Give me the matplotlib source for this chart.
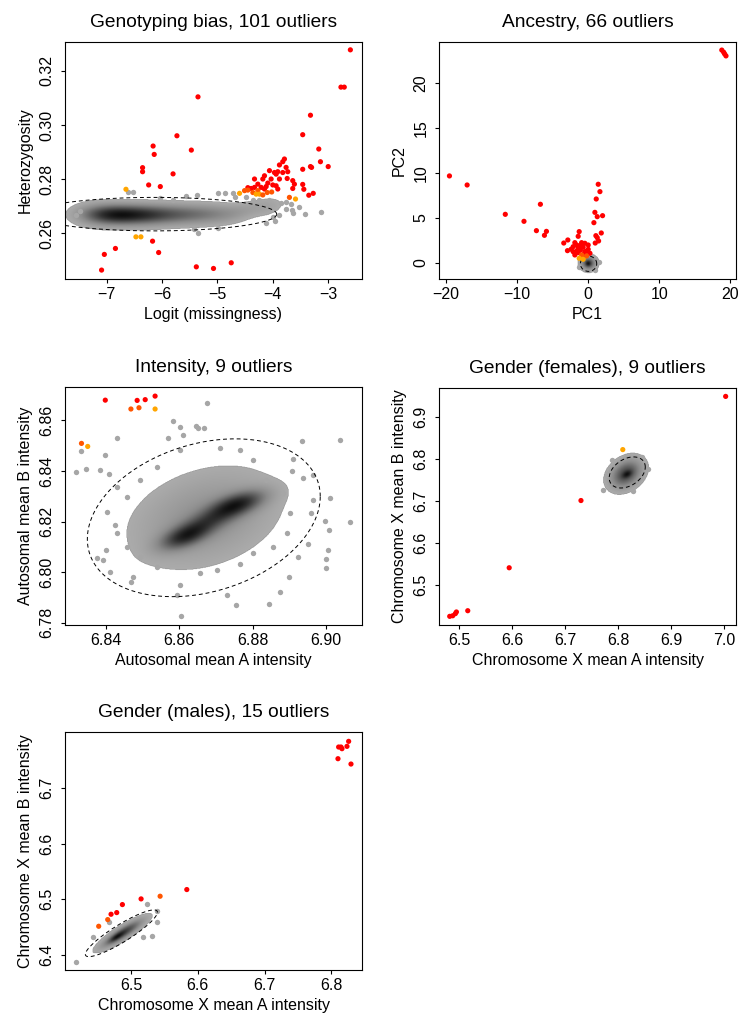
import numpy as np
import matplotlib.pyplot as plt
from matplotlib.colors import LinearSegmentedColormap

plt.rcParams['font.family'] = ['Liberation Sans', 'DejaVu Sans']

# ============================================
# Data
# ============================================
# colour codes of the outliers: r = red, x = orange-red, o = orange
COLS = {'r': '#FF0000', 'x': '#FF5500', 'o': '#FFA500'}

# --- 1. Genotyping bias ---
bias_out_x = [-2.60, -2.77, -2.71, -5.35, -3.32, -3.46, -5.73, -6.16, -6.14, -5.47,
              -3.17, -3.14, -3.00, -3.32, -3.30, -3.46, -6.35, -6.35, -5.80, -6.24,
              -6.03, -3.46, -3.44, -3.27, -3.35, -6.17, -6.06, -6.84, -7.04, -7.09,
              -5.38, -5.07, -4.75, -6.65, -6.47, -6.38, -3.70, -3.59,
              -3.79, -3.82, -3.88, -3.76, -4.06, -3.97, -3.94, -3.91, -3.82, -3.73,
              -4.15, -4.18, -4.33, -4.03, -3.88, -3.74, -3.64, -3.61, -4.27, -4.09,
              -4.00, -3.94, -3.91, -3.64, -4.33, -4.21, -4.39, -4.15, -4.12, -4.45,
              -4.45, -4.51, -4.27, -4.36, -4.24, -4.60, -4.30, -4.18, -4.02, -4.10]
bias_out_y = [0.3278, 0.3140, 0.3140, 0.3104, 0.3036, 0.2964, 0.2960, 0.2922, 0.2891, 0.2907,
              0.2911, 0.2864, 0.2846, 0.2846, 0.2843, 0.2836, 0.2842, 0.2827, 0.2819, 0.2778,
              0.2772, 0.2780, 0.2762, 0.2747, 0.2740, 0.2570, 0.2528, 0.2543, 0.2521, 0.2463,
              0.2475, 0.2469, 0.2490, 0.2762, 0.2586, 0.2586, 0.2732, 0.2726,
              0.2874, 0.2864, 0.2852, 0.2843, 0.2831, 0.2824, 0.2818, 0.2827, 0.2824, 0.2827,
              0.2812, 0.2800, 0.2800, 0.2800, 0.2800, 0.2802, 0.2794, 0.2781, 0.2781, 0.2785,
              0.2778, 0.2775, 0.2763, 0.2765, 0.2769, 0.2769, 0.2765, 0.2763, 0.2772, 0.2768,
              0.2759, 0.2757, 0.2757, 0.2750, 0.2744, 0.2747, 0.2744, 0.2741, 0.2752, 0.2750]
bias_out_c = list('rrrrrrrrrr' 'rrrrrrrrrr' 'rrrrrrrrrr' 'rrroooxo'
                  'rrrrrrrrrr' 'rrrrrrrrrr' 'rrrrrrrrrr' 'xxxxoooxxx')
bias_gray_x = [-6.61, -6.52, -5.37, -4.99, -4.87, -4.69, -5.35, -5.42, -4.98, -4.12,
               -3.96, -4.00, -3.88, -3.85, -3.76, -3.68, -3.65, -3.64, -3.52, -3.41,
               -3.13, -3.76, -4.06, -4.24, -4.36, -4.48, -4.72, -7.48, -7.55, -6.04,
               -5.80, -5.56]
bias_gray_y = [0.2753, 0.2752, 0.2741, 0.2750, 0.2747, 0.2735, 0.2599, 0.2614, 0.2619, 0.2638,
               0.2646, 0.2660, 0.2667, 0.2710, 0.2716, 0.2707, 0.2685, 0.2673, 0.2695, 0.2670,
               0.2678, 0.2688, 0.2722, 0.2722, 0.2724, 0.2735, 0.2747, 0.2683, 0.2667, 0.2728,
               0.2722, 0.2737]
# density cloud components: centre x, centre y, sd x, sd y, correlation, weight
bias_cloud = [(-7.15, 0.2668, 0.30, 0.0026, 0.0, 0.55),
              (-6.75, 0.2667, 0.30, 0.0024, 0.0, 0.85),
              (-6.30, 0.2667, 0.30, 0.0025, 0.0, 0.65),
              (-5.85, 0.2668, 0.30, 0.0025, 0.0, 0.45),
              (-5.40, 0.2669, 0.30, 0.0025, 0.0, 0.35),
              (-4.95, 0.2671, 0.30, 0.0025, 0.0, 0.25),
              (-4.45, 0.2688, 0.30, 0.0025, 0.5, 0.15),
              (-4.05, 0.2695, 0.20, 0.0025, 0.3, 0.10)]
bias_ellipse = (-6.13, 0.2670, 2.2, 0.0062, 0.0)

# --- 2. Ancestry ---
anc_out_x = [18.80, 19.06, 19.20, 19.39, -19.53, -17.04, -11.67, -9.04, -6.73, -7.29,
             -5.88, -6.16, -3.44, -2.87, -2.92, 1.41, 1.65, 1.13, 0.94, 1.27,
             2.02, 0.80, 1.84, 1.08, 1.27, 1.46, 0.99, -1.27, -1.41, -1.88,
             -1.64, -0.93, -0.47, 0.00, -2.12, -1.41, -0.71, 0.00, -2.12, -1.41,
             -0.47, 0.24, -1.88, -1.10, -0.20, -1.60, -0.60, -1.20, -2.40, -0.93,
             -0.23, -1.27, -0.71]
anc_out_y = [23.70, 23.46, 23.27, 23.05, 9.67, 8.66, 5.39, 4.61, 6.51, 3.57,
             3.49, 3.05, 2.19, 2.53, 1.34, 8.74, 7.92, 7.10, 5.61, 5.13,
             5.24, 4.46, 3.31, 3.01, 2.79, 2.42, 2.19, 3.46, 2.94, 2.23,
             1.97, 2.23, 2.16, 1.97, 1.78, 1.60, 1.72, 1.49, 1.23, 1.12,
             1.23, 1.05, 0.86, 1.40, 1.30, 1.30, 0.95, 1.90, 1.50, 0.86,
             0.75, 0.49, 0.38]
anc_out_c = list('r' * 49 + 'xxoo')
anc_gray_x = [1.45, -1.35, 0.9]
anc_gray_y = [0.05, -0.45, -0.85]
anc_cloud = [(0.05, -0.07, 0.68, 0.48, 0.0, 1.0),
             (0.0, -0.12, 0.25, 0.20, 0.0, 0.6)]
anc_ellipse = (0.05, -0.12, 1.15, 0.85, 0.0)

# --- 3. Intensity ---
int_out_x = [6.8398, 6.8485, 6.8507, 6.8534, 6.8468, 6.8490, 6.8534, 6.8333, 6.8350]
int_out_y = [6.8680, 6.8679, 6.8682, 6.8696, 6.8645, 6.8650, 6.8645, 6.8509, 6.8497]
int_out_c = list('rrrrxxoxo')
int_gray_x = [6.8676, 6.8584, 6.8602, 6.8647, 6.8667, 6.8611, 6.8570, 6.8430, 6.8333, 6.8318,
              6.8345, 6.8397, 6.8384, 6.8409, 6.8935, 6.9038, 6.9011, 6.8997, 6.9067, 6.9010,
              6.9005, 6.9000, 6.9001, 6.8923, 6.8901, 6.8876, 6.8845, 6.8756, 6.8729, 6.8606,
              6.8602, 6.8593, 6.8375, 6.8393, 6.8411, 6.8468, 6.8475, 6.8400, 6.8402, 6.8964,
              6.8938, 6.8909, 6.8910, 6.8965, 6.8960, 6.8952,
              6.8652, 6.8711, 6.8429, 6.8456, 6.8425, 6.8429, 6.8456, 6.8493, 6.8538, 6.8656,
              6.8702, 6.8765, 6.8802, 6.8856, 6.8893, 6.8902, 6.8884, 6.8838, 6.8802, 6.8765,
              6.8602, 6.8538, 6.8493]
int_gray_y = [6.8668, 6.8596, 6.8574, 6.8578, 6.8571, 6.8542, 6.8532, 6.8532, 6.8478, 6.8396,
              6.8407, 6.8462, 6.8405, 6.8389, 6.8518, 6.8524, 6.8292, 6.8204, 6.8199, 6.8168,
              6.8087, 6.8053, 6.8017, 6.8058, 6.7982, 6.7921, 6.7876, 6.7871, 6.7909, 6.7826,
              6.7949, 6.7909, 6.8054, 6.8047, 6.8001, 6.7962, 6.7979, 6.8089, 6.8238, 6.8384,
              6.8374, 6.8400, 6.8447, 6.8284, 6.8232, 6.8111,
              6.8571, 6.8492, 6.8337, 6.8297, 6.8186, 6.8153, 6.8100, 6.8061, 6.8021, 6.7995,
              6.8008, 6.8034, 6.8074, 6.8100, 6.8153, 6.8232, 6.8311, 6.8363, 6.8442, 6.8482,
              6.8482, 6.8416, 6.8363]
int_cloud = [(6.8670, 6.8215, 0.0135, 0.0130, 0.30, 0.28),
             (6.8615, 6.8140, 0.0045, 0.0035, 0.55, 0.70),
             (6.8760, 6.8270, 0.0050, 0.0035, 0.55, 0.75),
             (6.8685, 6.8205, 0.0060, 0.0045, 0.70, 0.45)]
int_ellipse = (6.8667, 6.8215, 0.0318, 0.0312, 0.27)

# --- 4. Gender (females) ---
fem_out_x = [7.0025, 6.7298, 6.5945, 6.5164, 6.4824, 6.4880, 6.4930, 6.4950, 6.8086]
fem_out_y = [6.9490, 6.7012, 6.5412, 6.4390, 6.4256, 6.4270, 6.4320, 6.4360, 6.8224]
fem_out_c = list('rrrrrrrro')
fem_gray_x = [6.7720, 6.8287, 6.8570, 6.8445, 6.7878, 6.7783]
fem_gray_y = [6.7273, 6.7242, 6.7772, 6.8050, 6.7970, 6.7614]
fem_cloud = [(6.815, 6.765, 0.019, 0.022, 0.30, 1.0),
             (6.817, 6.764, 0.006, 0.006, 0.40, 0.5)]
fem_ellipse = (6.817, 6.768, 0.034, 0.037, 0.35)

# --- 5. Gender (males) ---
mal_out_x = [6.8260, 6.8235, 6.8110, 6.8145, 6.8160, 6.8100, 6.8295, 6.5835, 6.5435, 6.5150,
             6.4870, 6.4785, 6.4700, 6.4650, 6.4515]
mal_out_y = [6.7840, 6.7750, 6.7738, 6.7738, 6.7708, 6.7528, 6.7432, 6.5176, 6.5056, 6.5008,
             6.4906, 6.4762, 6.4732, 6.4636, 6.4516]
mal_out_c = list('rrrrrrrrxrrrrxx')
mal_gray_x = [6.4175, 6.5235, 6.5395, 6.5310, 6.5185, 6.4675, 6.5385, 6.4435]
mal_gray_y = [6.3880, 6.4912, 6.4600, 6.4349, 6.4330, 6.4600, 6.4798, 6.4330]
mal_cloud = [(6.487, 6.439, 0.020, 0.016, 0.88, 1.0),
             (6.478, 6.432, 0.007, 0.006, 0.80, 0.5)]
mal_ellipse = (6.4855, 6.439, 0.054, 0.042, 0.90)

# ============================================
# Helpers
# ============================================
gray_cmap = LinearSegmentedColormap.from_list(
    'dens', [(0.0, '#ABABAB'), (0.25, '#8A8A8A'), (0.5, '#5E5E5E'),
             (0.75, '#333333'), (1.0, '#0F0F0F')])
THR = 0.08


def cloud(ax, comps, xlim, ylim):
    gx, gy = np.meshgrid(np.linspace(*xlim, 500), np.linspace(*ylim, 500))
    dens = np.zeros_like(gx)
    for cx, cy, sx, sy, rho, w in comps:
        zx = (gx - cx) / sx
        zy = (gy - cy) / sy
        q = (zx**2 - 2 * rho * zx * zy + zy**2) / (1 - rho**2)
        dens += w * np.exp(-0.5 * q)
    ax.imshow(np.ma.masked_less(dens, THR), extent=(*xlim, *ylim), origin='lower',
              aspect='auto', cmap=gray_cmap, vmin=THR, vmax=dens.max(),
              interpolation='bilinear', zorder=1)


def dashed_ellipse(ax, cx, cy, sx, sy, rho):
    t = np.linspace(0, 2 * np.pi, 300)
    ax.plot(cx + sx * np.cos(t),
            cy + sy * (rho * np.cos(t) + np.sqrt(1 - rho**2) * np.sin(t)),
            color='black', lw=0.7, ls=(0, (4, 3)), zorder=3)


W, H = 738, 1023
fig = plt.figure(figsize=(W / 100, H / 100), dpi=100)


def panel(box, title, xlab, ylab, xlim, ylim, xticks, xtl, yticks, ytl,
          comps, gx, gy, ell, ox, oy, oc):
    l, t, r, b = box
    ax = fig.add_axes([l / W, 1 - b / H, (r - l) / W, (b - t) / H])
    cloud(ax, comps, xlim, ylim)
    ax.scatter(gx, gy, s=15, color='#A6A6A6', lw=0, zorder=2)
    dashed_ellipse(ax, *ell)
    ax.scatter(ox, oy, s=14, c=[COLS[c] for c in oc], lw=0, zorder=4)
    ax.set_xlim(xlim)
    ax.set_ylim(ylim)
    ax.set_xticks(xticks)
    ax.set_xticklabels(xtl)
    ax.set_yticks(yticks)
    ax.set_yticklabels(ytl, rotation=90, va='center')
    ax.tick_params(axis='both', direction='out', length=3, width=0.8, labelsize=11.5)
    ax.tick_params(axis='x', pad=3)
    ax.tick_params(axis='y', pad=4.5)
    for sp in ax.spines.values():
        sp.set_linewidth(0.8)
    ax.set_title(title, fontsize=13.8, pad=11)
    ax.set_xlabel(xlab, fontsize=11.5, labelpad=3.5)
    ax.set_ylabel(ylab, fontsize=11.5, labelpad=4.8)
    return ax


panel((65, 42, 362, 279), 'Genotyping bias, 101 outliers',
      'Logit (missingness)', 'Heterozygosity',
      (-7.75, -2.39), (0.243, 0.3307),
      [-7, -6, -5, -4, -3], ['\u22127', '\u22126', '\u22125', '\u22124', '\u22123'],
      [0.26, 0.28, 0.30, 0.32], ['0.26', '0.28', '0.30', '0.32'],
      bias_cloud, bias_gray_x, bias_gray_y, bias_ellipse,
      bias_out_x, bias_out_y, bias_out_c)

panel((439, 42, 736, 279), 'Ancestry, 66 outliers', 'PC1', 'PC2',
      (-21.0, 20.8), (-1.82, 24.6),
      [-20, -10, 0, 10, 20], ['\u221220', '\u221210', '0', '10', '20'],
      [0, 5, 10, 15, 20], ['0', '5', '10', '15', '20'],
      anc_cloud, anc_gray_x, anc_gray_y, anc_ellipse,
      anc_out_x, anc_out_y, anc_out_c)

panel((65, 387, 362, 625), 'Intensity, 9 outliers',
      'Autosomal mean A intensity', 'Autosomal mean B intensity',
      (6.8288, 6.9099), (6.7791, 6.8732),
      [6.84, 6.86, 6.88, 6.90], ['6.84', '6.86', '6.88', '6.90'],
      [6.78, 6.80, 6.82, 6.84, 6.86], ['6.78', '6.80', '6.82', '6.84', '6.86'],
      int_cloud, int_gray_x, int_gray_y, int_ellipse,
      int_out_x, int_out_y, int_out_c)

panel((439, 388, 736, 625), 'Gender (females), 9 outliers',
      'Chromosome X mean A intensity', 'Chromosome X mean B intensity',
      (6.4622, 7.022), (6.405, 6.969),
      [6.5, 6.6, 6.7, 6.8, 6.9, 7.0], ['6.5', '6.6', '6.7', '6.8', '6.9', '7.0'],
      [6.5, 6.6, 6.7, 6.8, 6.9], ['6.5', '6.6', '6.7', '6.8', '6.9'],
      fem_cloud, fem_gray_x, fem_gray_y, fem_ellipse,
      fem_out_x, fem_out_y, fem_out_c)

panel((65, 732, 362, 970), 'Gender (males), 15 outliers',
      'Chromosome X mean A intensity', 'Chromosome X mean B intensity',
      (6.401, 6.846), (6.373, 6.8008),
      [6.5, 6.6, 6.7, 6.8], ['6.5', '6.6', '6.7', '6.8'],
      [6.4, 6.5, 6.6, 6.7], ['6.4', '6.5', '6.6', '6.7'],
      mal_cloud, mal_gray_x, mal_gray_y, mal_ellipse,
      mal_out_x, mal_out_y, mal_out_c)

fig.savefig('out.png', dpi=100)
